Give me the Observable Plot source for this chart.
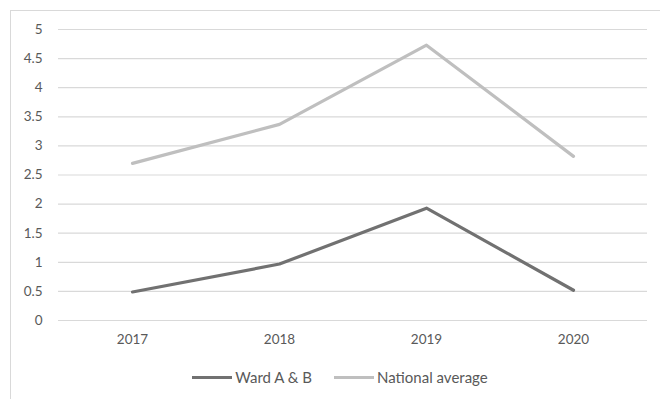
<!DOCTYPE html>
<html>
<head>
<meta charset="utf-8">
<script src="https://cdn.jsdelivr.net/npm/d3@7"></script>
<script src="https://cdn.jsdelivr.net/npm/@observablehq/plot@0.6"></script>
<style>
  body { margin: 0; background: #fff; font-family: Lato, "Open Sans", sans-serif; }
  #frame { position: absolute; left: 10px; top: 10px; width: 700px; height: 420px; border: 1px solid #d9d9d9; box-sizing: border-box; }
  #chart { position: absolute; left: 0; top: 0; }
  #legend { position: absolute; left: 0; top: 368px; width: 680px; display: flex; justify-content: center; gap: 22px; font-size: 15px; color: #595959; }
  .item { display: flex; align-items: center; }
  .sw { width: 40px; height: 3px; margin-right: 3px; }
</style>
</head>
<body>
<div id="frame"></div>
<div id="chart"></div>
<div id="legend"></div>
<script>
const years = ["2017", "2018", "2019", "2020"];
const seriesNames = ["Ward A & B", "National average"];
const wardValues = [0.49, 0.97, 1.93, 0.52];
const nationalValues = [2.70, 3.37, 4.73, 2.82];
const seriesColors = ["#717171", "#bfbfbf"];
const yTicks = [0, 0.5, 1, 1.5, 2, 2.5, 3, 3.5, 4, 4.5, 5];

const data = [];
years.forEach((y, i) => data.push({year: y, value: wardValues[i], series: seriesNames[0]}));
years.forEach((y, i) => data.push({year: y, value: nationalValues[i], series: seriesNames[1]}));

const chart = Plot.plot({
  width: 660,
  height: 355,
  marginLeft: 58,
  marginRight: 13,
  marginTop: 29,
  marginBottom: 35,
  style: { fontFamily: "Lato, 'Open Sans', sans-serif", fontSize: "13.5px", color: "#595959", background: "transparent" },
  x: { type: "point", domain: years, padding: 0.5, label: null, tickSize: 0, tickPadding: 14 },
  y: { domain: [0, 5], ticks: yTicks, tickFormat: d => String(d), label: null, tickSize: 0, tickPadding: 16 },
  color: { domain: seriesNames, range: seriesColors },
  marks: [
    Plot.gridY(yTicks, { stroke: "#d9d9d9", strokeOpacity: 1, strokeWidth: 1.2 }),
    Plot.line(data, { x: "year", y: "value", z: "series", stroke: "series", strokeWidth: 3.2, strokeLinecap: "round" })
  ]
});
document.getElementById("chart").appendChild(chart);

const legend = document.getElementById("legend");
seriesNames.forEach((name, i) => {
  const item = document.createElement("div");
  item.className = "item";
  const sw = document.createElement("div");
  sw.className = "sw";
  sw.style.background = seriesColors[i];
  const label = document.createElement("span");
  label.textContent = name;
  item.appendChild(sw);
  item.appendChild(label);
  legend.appendChild(item);
});
</script>
</body>
</html>
